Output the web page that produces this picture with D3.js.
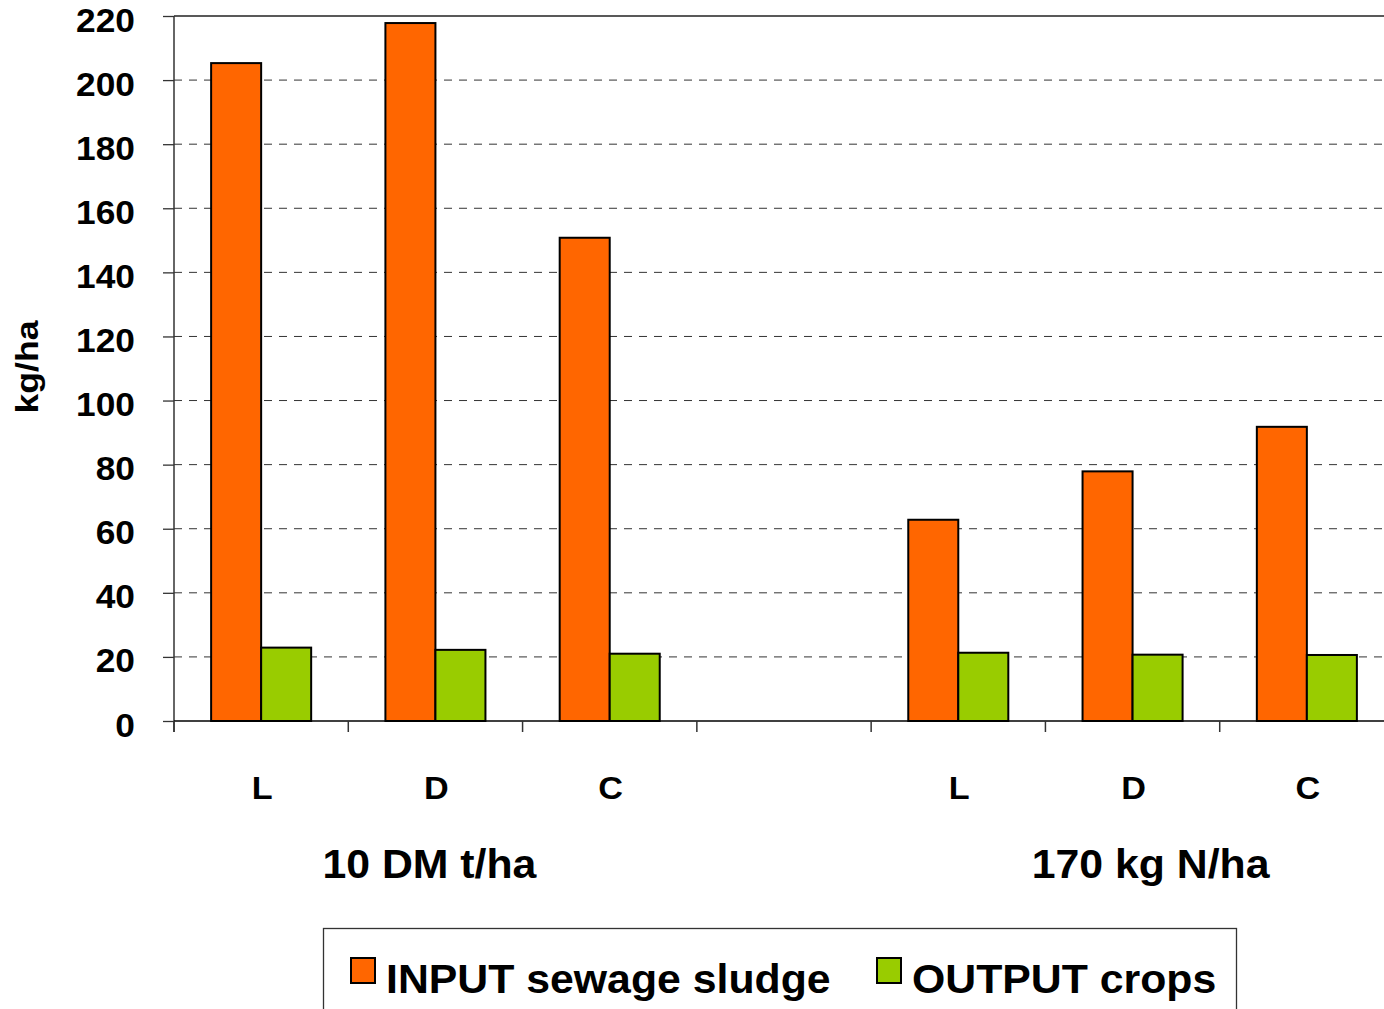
<html>
<head>
<style>
  body { margin: 0; background: #fff; }
  svg { font-family: "Liberation Sans", Arial, sans-serif; font-weight: bold; }
  .grid line { stroke: #333; stroke-dasharray: 8,7; }
</style>
</head>
<body>
<svg id="chart" width="1384" height="1009"></svg>
<script src="https://cdn.jsdelivr.net/npm/d3@7"></script>
<script>
// data
let categories = ["L", "D", "C", "", "L", "D", "C"]
let groups = [{ label: "10 DM t/ha", slots: [0, 1, 2], shift: -6 }, { label: "170 kg N/ha", slots: [4, 5, 6], shift: 18 }]
let inputSludge = [205.3, 217.8, 150.8, null, 62.8, 77.9, 91.8]
let outputCrops = [22.9, 22.2, 21.0, null, 21.3, 20.7, 20.6]
let seriesNames = ["INPUT sewage sludge", "OUTPUT crops"]
let colors = ["#ff6600", "#99cc00"]
let yTicks = [0, 20, 40, 60, 80, 100, 120, 140, 160, 180, 200, 220]

let svg = d3.select("#chart")
let plotLeft = 174, plotRight = 1394, plotTop = 16, plotBottom = 721
let stretch = 1.07  // the original text is a bit wider than Liberation Sans

// move x/y into a transform so the glyphs can be widened
function widen(sel, sx) {
    sel.each(function () {
        let t = d3.select(this)
        let tx = +t.attr("x") || 0, ty = +t.attr("y") || 0
        t.attr("x", 0).attr("y", 0)
         .attr("transform", "translate(" + tx + "," + ty + ") scale(" + sx + ",1)")
    })
}

let x = d3.scaleBand()
    .domain(d3.range(categories.length))
    .range([plotLeft, plotRight])
let groupW = x.bandwidth() * 0.574
let xs = d3.scaleBand()
    .domain([0, 1])
    .range([(x.bandwidth() - groupW) / 2, (x.bandwidth() + groupW) / 2])

let y = d3.scaleLinear()
    .domain([0, 220])
    .range([plotBottom, plotTop])

// gridlines (dashed), top one solid
svg.append("g").attr("class", "grid")
    .selectAll("line")
    .data(yTicks.filter(d => d > 0 && d < 220))
    .join("line")
    .attr("x1", plotLeft).attr("x2", plotRight)
    .attr("y1", d => y(d)).attr("y2", d => y(d))
svg.append("line")
    .attr("x1", plotLeft).attr("x2", plotRight)
    .attr("y1", y(220)).attr("y2", y(220))
    .attr("stroke", "#222").attr("stroke-width", 1.3)

// y axis
let yAxis = svg.append("g")
    .attr("transform", "translate(" + plotLeft + ",0)")
    .call(d3.axisLeft(y).tickValues(yTicks).tickSize(11).tickPadding(28).tickSizeOuter(0))
yAxis.select(".domain").attr("stroke", "#333").attr("stroke-width", 1.5)
    .attr("d", "M0," + y(220) + "V" + (plotBottom + 11))
yAxis.selectAll(".tick line").attr("stroke", "#333").attr("stroke-width", 1.3)
yAxis.selectAll("text")
    .attr("font-size", 33).attr("font-family", "Liberation Sans, Arial").attr("font-weight", "bold")
    .attr("fill", "#000").attr("dy", 15)
    .call(widen, stretch)

// bars
let series = [inputSludge, outputCrops]
series.forEach((vals, si) => {
    svg.append("g")
        .selectAll("rect")
        .data(vals.map((v, i) => ({ i: i, v: v })).filter(d => d.v != null))
        .join("rect")
        .attr("x", d => x(d.i) + xs(si))
        .attr("width", xs.bandwidth())
        .attr("y", d => y(d.v))
        .attr("height", d => y(0) - y(d.v))
        .attr("fill", colors[si])
        .attr("stroke", "#000")
        .attr("stroke-width", 2)
})

// x axis
let xAxis = svg.append("g")
    .attr("transform", "translate(0," + plotBottom + ")")
xAxis.append("line")
    .attr("x1", plotLeft).attr("x2", plotRight)
    .attr("stroke", "#000").attr("stroke-width", 1.5)
xAxis.selectAll(".xtick")
    .data(d3.range(categories.length + 1))
    .join("line")
    .attr("x1", d => plotLeft + d * x.step()).attr("x2", d => plotLeft + d * x.step())
    .attr("y1", 0).attr("y2", 11)
    .attr("stroke", "#333").attr("stroke-width", 1.5)
xAxis.selectAll(".xlabel")
    .data(categories)
    .join("text")
    .attr("x", (d, i) => x(i) + x.bandwidth() / 2 + 1)
    .attr("y", 78)
    .attr("text-anchor", "middle")
    .attr("font-size", 32)
    .text(d => d)
    .call(widen, stretch)

// group labels
svg.selectAll(".glabel")
    .data(groups)
    .join("text")
    .attr("x", d => (x(d.slots[0]) + x(d.slots[2]) + x.bandwidth()) / 2 + d.shift)
    .attr("y", 878)
    .attr("text-anchor", "middle")
    .attr("font-size", 40)
    .text(d => d.label)
    .call(widen, stretch)

// y title
svg.append("text")
    .attr("transform", "translate(38,367) rotate(-90) scale(1.15,1)")
    .attr("text-anchor", "middle")
    .attr("font-size", 31)
    .text("kg/ha")

// legend
let legend = svg.append("g")
legend.append("rect")
    .attr("x", 323.5).attr("y", 928.5).attr("width", 913).attr("height", 100)
    .attr("fill", "none").attr("stroke", "#333").attr("stroke-width", 1.3)
let legendX = [351, 877]
seriesNames.forEach((name, i) => {
    legend.append("rect")
        .attr("x", legendX[i]).attr("y", 958).attr("width", 24).attr("height", 25)
        .attr("fill", colors[i]).attr("stroke", "#000").attr("stroke-width", 2)
    legend.append("text")
        .attr("x", legendX[i] + 35).attr("y", 993)
        .attr("font-size", 40)
        .text(name)
        .call(widen, stretch)
})
</script>
</body>
</html>
